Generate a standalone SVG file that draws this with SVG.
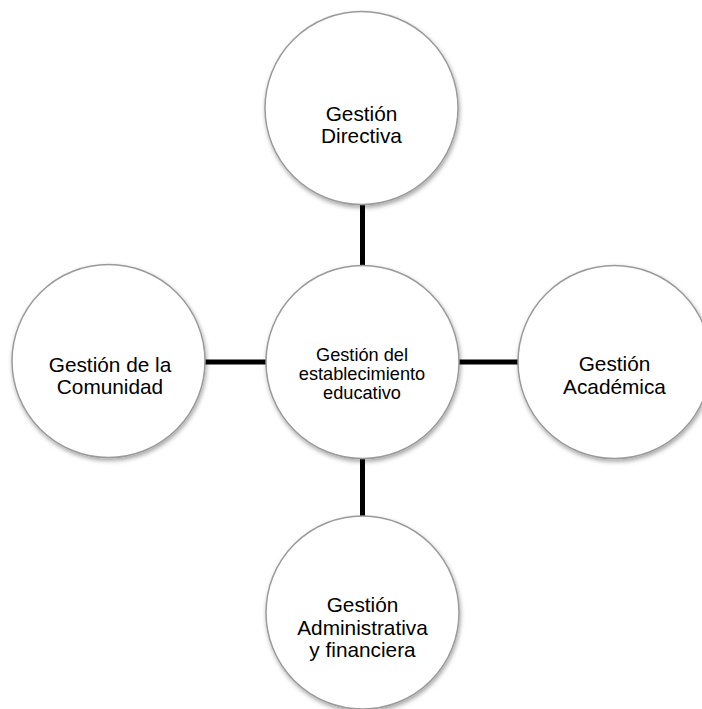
<svg xmlns="http://www.w3.org/2000/svg" width="702" height="709" viewBox="0 0 702 709">
  <defs>
    <filter id="soft-shadow" x="-20%" y="-20%" width="140%" height="140%">
      <feDropShadow dx="1" dy="2.5" stdDeviation="2" flood-color="#000" flood-opacity="0.35"/>
    </filter>
  </defs>
  <style>
    .bubble { fill: #ffffff; stroke: #9a9a9a; stroke-width: 1.5; filter: url(#soft-shadow); }
    .label { font-family: "Liberation Sans", Arial, sans-serif; font-size: 20.8px; fill: #000; text-anchor: middle; }
    .hub-label { font-family: "Liberation Sans", Arial, sans-serif; font-size: 18.2px; fill: #000; text-anchor: middle; }
    .link { stroke: #000; stroke-width: 5; fill: none; }
  </style>

  <rect width="702" height="709" fill="#ffffff"/>

  <!-- spokes between the hub and the four areas -->
  <g id="connectors">
    <line class="link" x1="362.5" y1="200" x2="362.5" y2="270"/>
    <line class="link" x1="200" y1="362" x2="270" y2="362"/>
    <line class="link" x1="455" y1="362" x2="522" y2="362"/>
    <line class="link" x1="362.5" y1="455" x2="362.5" y2="520"/>
  </g>

  <g id="node-directiva">
    <circle class="bubble" cx="361.5" cy="108" r="96.5"/>
    <text class="label" x="361.5" y="120.5">Gestión</text>
    <text class="label" x="361.5" y="142.5">Directiva</text>
  </g>

  <g id="node-comunidad">
    <circle class="bubble" cx="108.5" cy="361" r="96.5"/>
    <text class="label" x="110" y="372">Gestión de la</text>
    <text class="label" x="110" y="394">Comunidad</text>
  </g>

  <g id="node-academica">
    <circle class="bubble" cx="614.5" cy="362" r="96.5"/>
    <text class="label" x="614.5" y="371">Gestión</text>
    <text class="label" x="614.5" y="393.5">Académica</text>
  </g>

  <g id="node-administrativa">
    <circle class="bubble" cx="362.5" cy="612.5" r="96.5"/>
    <text class="label" x="362.5" y="612">Gestión</text>
    <text class="label" x="362.5" y="634.5">Administrativa</text>
    <text class="label" x="362.5" y="656.5">y financiera</text>
  </g>

  <g id="node-establecimiento">
    <circle class="bubble" cx="362.5" cy="362" r="96.5"/>
    <text class="hub-label" x="362" y="360.5">Gestión del</text>
    <text class="hub-label" x="362" y="379.5">establecimiento</text>
    <text class="hub-label" x="362" y="398.5">educativo</text>
  </g>
</svg>
